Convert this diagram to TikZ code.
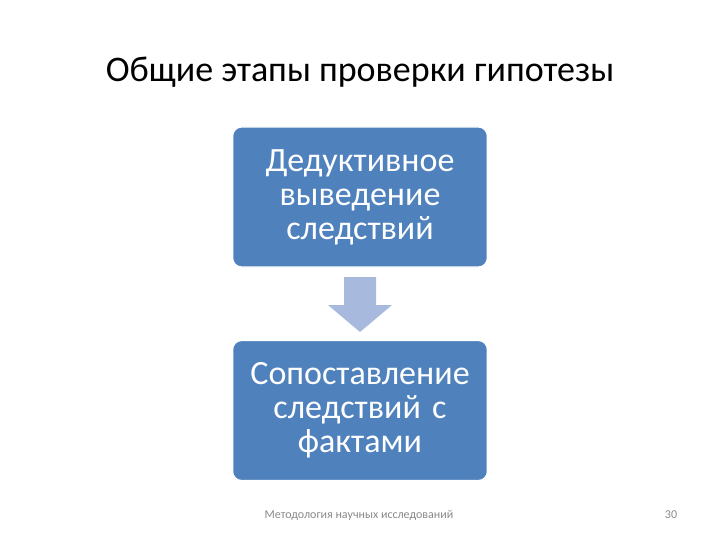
\documentclass[tikz,border=0pt]{standalone}
\usepackage{fontspec}
\setmainfont{Carlito}
\usepackage{xcolor}
\definecolor{cajaazul}{HTML}{4F81BD}
\definecolor{flechaazul}{HTML}{A7B9DC}
\definecolor{grispie}{HTML}{898989}
\begin{document}
\begin{tikzpicture}[
        x=1pt, y=-1pt,
        % distancia vertical entre las dos etapas
        node distance=213.5pt,
        etapa/.style={rectangle, draw=white, line width=1.2pt, fill=cajaazul, text=white, text width=248pt, align=center, rounded corners=9pt, minimum width=254pt, minimum height=140pt, font=\fontsize{34}{34}\selectfont},
        pie/.style={text=grispie, font=\fontsize{12}{14}\selectfont}
    ]
        \useasboundingbox (0,0) rectangle (720,540);
        \node [font=\fontsize{36}{40}\selectfont] (titulo) at (360,72) {Общие этапы проверки гипотезы};
        \node [etapa] (etapa1) at (360,197) {Дедуктивное\\выведение\\следствий};
        \node [etapa, below of=etapa1] (etapa2) {Сопоставление\\следствий с\\фактами};
        \coordinate (flecha) at (360,277);
        \fill [flechaazul] (flecha) ++(-16,0) -- ++(32,0) -- ++(0,28) -- ++(16,0) -- ++(-32,27) -- ++(-32,-27) -- ++(16,0) -- cycle;
        \node [pie] (nota) at (359,515) {Методология  научных исследований};
        \node [pie] (pagina) at (671,515) {30};
    \end{tikzpicture}
\end{document}
